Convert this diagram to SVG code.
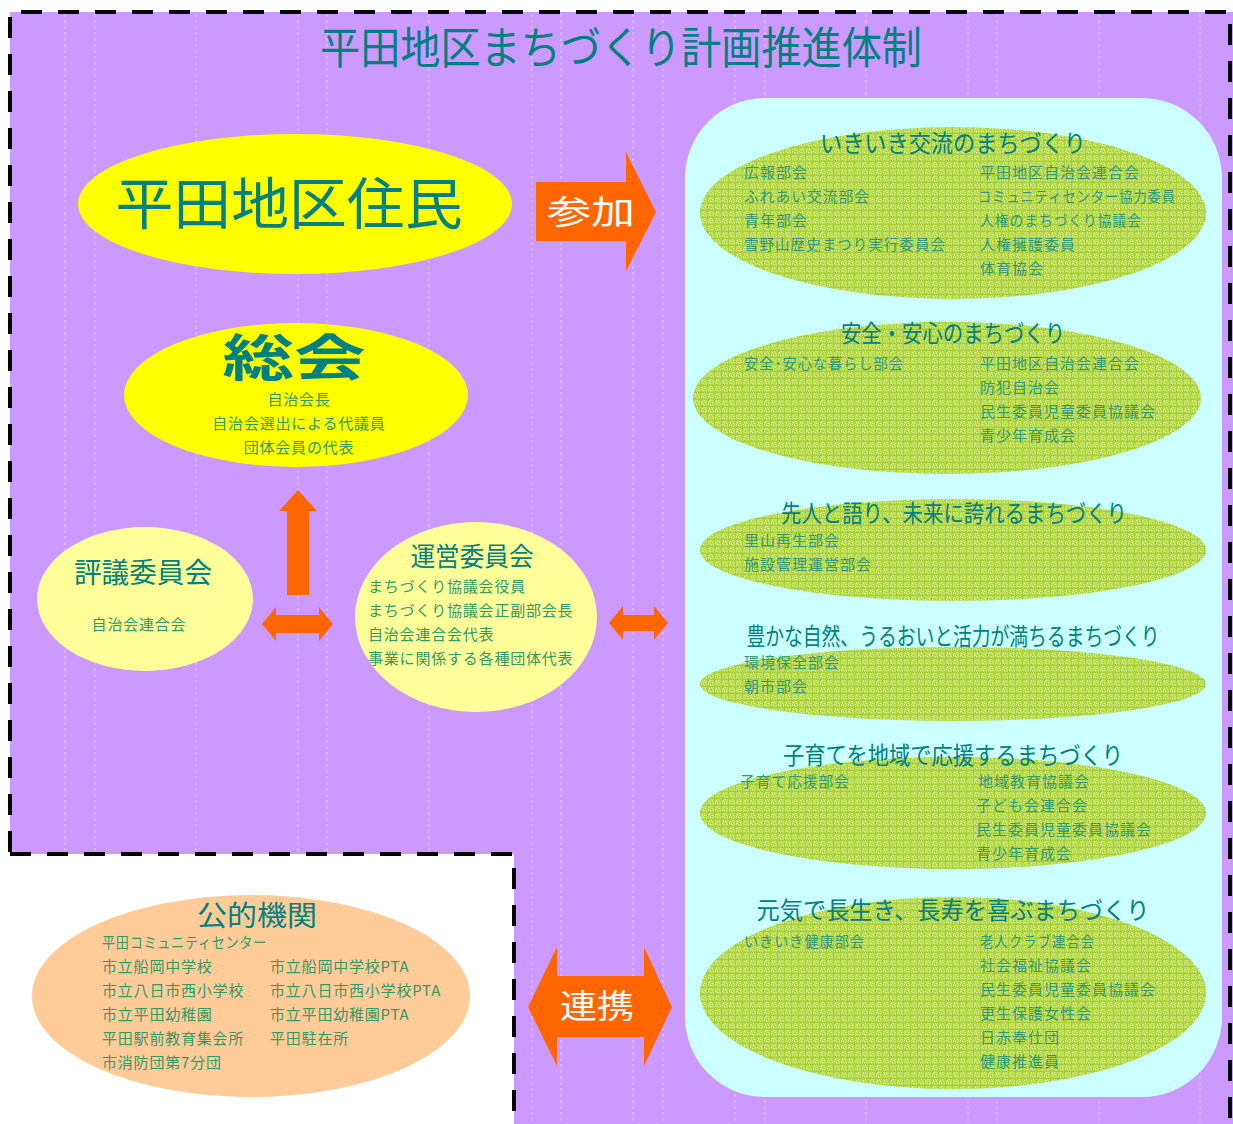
<svg xmlns="http://www.w3.org/2000/svg" width="1233" height="1124" viewBox="0 0 1233 1124">
<style>
.ttl{font-family:"Noto Sans CJK JP",sans-serif;fill:#008080;}
.sub{font-family:"Noto Sans CJK JP",sans-serif;font-size:15px;fill:#339977;letter-spacing:1px;}
.sub2{font-family:"Noto Sans CJK JP",sans-serif;font-size:15px;fill:#339966;letter-spacing:0.8px;}
.wt{font-family:"Noto Sans CJK JP",sans-serif;fill:#ffffff;}
.arrow{fill:#FF6600;}
.grid{stroke:#E2CCFF;stroke-width:1;stroke-dasharray:3 3;}
.green{fill:url(#tex);}
</style>
<defs>
<pattern id="tex" width="7" height="7" patternUnits="userSpaceOnUse">
<rect width="7" height="7" fill="#BADC52"/>
<rect x="0" y="0" width="7" height="1" fill="#AACE36"/>
<rect x="0" y="0" width="1" height="7" fill="#AACE36"/>
<rect x="2" y="2" width="1" height="1" fill="#E6F6B8"/>
<rect x="5" y="3" width="1" height="1" fill="#DCF0A0"/>
<rect x="3" y="5" width="1" height="1" fill="#E8F6BC"/>
<rect x="6" y="5" width="1" height="1" fill="#D6EC92"/>
<rect x="4" y="1" width="1" height="1" fill="#D2EA8A"/>
<rect x="1" y="4" width="1" height="1" fill="#E0F2A8"/>
<rect x="4" y="4" width="1" height="1" fill="#A8CC32"/>
<rect x="2" y="6" width="1" height="1" fill="#A8CC32"/>
</pattern>
</defs>

<g id="background">
<path d="M10,12 H1233 V1124 H514 V854 H10 Z" fill="#CC99FF"/>
<g id="gridlines">
<line class="grid" x1="65" y1="14" x2="65" y2="852"/>
<line class="grid" x1="95" y1="14" x2="95" y2="852"/>
<line class="grid" x1="196" y1="14" x2="196" y2="852"/>
<line class="grid" x1="298" y1="14" x2="298" y2="852"/>
<line class="grid" x1="327" y1="14" x2="327" y2="852"/>
<line class="grid" x1="429" y1="14" x2="429" y2="852"/>
<line class="grid" x1="532" y1="14" x2="532" y2="1124"/>
<line class="grid" x1="561" y1="14" x2="561" y2="1124"/>
<line class="grid" x1="633" y1="14" x2="633" y2="1124"/>
<line class="grid" x1="663" y1="14" x2="663" y2="1124"/>
<line class="grid" x1="735" y1="14" x2="735" y2="1124"/>
<line class="grid" x1="765" y1="14" x2="765" y2="1124"/>
<line class="grid" x1="866" y1="14" x2="866" y2="1124"/>
<line class="grid" x1="968" y1="14" x2="968" y2="1124"/>
<line class="grid" x1="997" y1="14" x2="997" y2="1124"/>
<line class="grid" x1="1099" y1="14" x2="1099" y2="1124"/>
<line class="grid" x1="1200" y1="14" x2="1200" y2="1124"/>
</g>
<path d="M10,852 V12 H1230 V1124 M10,854 H514 V1124" fill="none" stroke="#000" stroke-width="4" stroke-dasharray="21 16"/>
<text class="ttl" x="621" y="64" font-size="44" text-anchor="middle" textLength="602" lengthAdjust="spacingAndGlyphs">平田地区まちづくり計画推進体制</text>
<rect x="685" y="98" width="537" height="999" rx="80" ry="80" fill="#CCFFFF"/>
</g>

<g id="connectors">
<g id="arrow-sanka">
<path class="arrow" d="M536,182 H626 V152 L656,212 L626,271 V241 H536 Z"/>
<text class="wt" x="591" y="224" font-size="33" text-anchor="middle" textLength="88" lengthAdjust="spacingAndGlyphs">参加</text>
</g>
<path id="arrow-up" class="arrow" d="M287,595 V511 H279 L298,490 L317,511 H309 V595 Z"/>
<path id="arrow-lr1" class="arrow" d="M262,624 L276,607 V615 H319 V607 L333,624 L319,641 V633 H276 V641 Z"/>
<path id="arrow-lr2" class="arrow" d="M609,623 L623,606 V615 H654 V606 L668,623 L654,640 V631 H623 V640 Z"/>
<g id="arrow-renkei">
<path class="arrow" d="M528,1007 L557,947 V976 H644 V947 L672,1007 L644,1066 V1037 H557 V1066 Z"/>
<text class="wt" x="597" y="1018" font-size="33" text-anchor="middle" textLength="74" lengthAdjust="spacingAndGlyphs">連携</text>
</g>
</g>

<g id="node-jumin">
<ellipse cx="295" cy="204" rx="217" ry="70" fill="#FFFF00"/>
<text class="ttl" x="289" y="224" font-size="56" text-anchor="middle" textLength="347" lengthAdjust="spacingAndGlyphs">平田地区住民</text>
</g>

<g id="node-sokai">
<ellipse cx="296" cy="395" rx="172" ry="72" fill="#FFFF00"/>
<text class="ttl" x="294" y="376" font-size="50" font-weight="bold" text-anchor="middle" textLength="143" lengthAdjust="spacingAndGlyphs">総会</text>
<text class="sub2" x="299" y="405" text-anchor="middle">自治会長</text>
<text class="sub2" x="299" y="429" text-anchor="middle">自治会選出による代議員</text>
<text class="sub2" x="299" y="453" text-anchor="middle">団体会員の代表</text>
</g>

<g id="node-hyogi">
<ellipse cx="145" cy="599" rx="108" ry="72" fill="#FFFF99"/>
<text class="ttl" x="143" y="583" font-size="28" text-anchor="middle" textLength="138" lengthAdjust="spacingAndGlyphs">評議委員会</text>
<text class="sub2" x="139" y="630" text-anchor="middle">自治会連合会</text>
</g>

<g id="node-unei">
<ellipse cx="476" cy="617" rx="121" ry="95" fill="#FFFF99"/>
<text class="ttl" x="472" y="566" font-size="26" text-anchor="middle" textLength="123" lengthAdjust="spacingAndGlyphs">運営委員会</text>
<text class="sub2" x="368" y="592">まちづくり協議会役員</text>
<text class="sub2" x="368" y="616">まちづくり協議会正副部会長</text>
<text class="sub2" x="368" y="640">自治会連合会代表</text>
<text class="sub2" x="368" y="664">事業に関係する各種団体代表</text>
</g>

<g id="node-koteki">
<ellipse cx="251" cy="996" rx="219" ry="101" fill="#FFCC99"/>
<text class="ttl" x="257" y="926" font-size="28" text-anchor="middle" textLength="120" lengthAdjust="spacingAndGlyphs">公的機関</text>
<text class="sub2" x="102" y="948" textLength="165" lengthAdjust="spacingAndGlyphs">平田コミュニティセンター</text>
<text class="sub2" x="102" y="972">市立船岡中学校</text>
<text class="sub2" x="102" y="996">市立八日市西小学校</text>
<text class="sub2" x="102" y="1020">市立平田幼稚園</text>
<text class="sub2" x="102" y="1044">平田駅前教育集会所</text>
<text class="sub2" x="102" y="1068">市消防団第7分団</text>
<text class="sub2" x="270" y="972">市立船岡中学校PTA</text>
<text class="sub2" x="270" y="996">市立八日市西小学校PTA</text>
<text class="sub2" x="270" y="1020">市立平田幼稚園PTA</text>
<text class="sub2" x="270" y="1044">平田駐在所</text>
</g>

<g id="node-ikiiki">
<ellipse class="green" cx="953" cy="213" rx="253" ry="86"/>
<text class="ttl" x="953" y="152" font-size="24" text-anchor="middle" textLength="266" lengthAdjust="spacingAndGlyphs">いきいき交流のまちづくり</text>
<text class="sub" x="744" y="178">広報部会</text>
<text class="sub" x="744" y="202" textLength="126" lengthAdjust="spacingAndGlyphs">ふれあい交流部会</text>
<text class="sub" x="744" y="226">青年部会</text>
<text class="sub" x="744" y="250" textLength="202" lengthAdjust="spacingAndGlyphs">雪野山歴史まつり実行委員会</text>
<text class="sub" x="980" y="178">平田地区自治会連合会</text>
<text class="sub" x="978" y="202" textLength="198" lengthAdjust="spacingAndGlyphs">コミュニティセンター協力委員</text>
<text class="sub" x="980" y="226" textLength="162" lengthAdjust="spacingAndGlyphs">人権のまちづくり協議会</text>
<text class="sub" x="980" y="250">人権擁護委員</text>
<text class="sub" x="980" y="274">体育協会</text>
</g>

<g id="node-anzen">
<ellipse class="green" cx="947" cy="398" rx="254" ry="76"/>
<text class="ttl" x="953" y="342" font-size="24" text-anchor="middle" textLength="224" lengthAdjust="spacingAndGlyphs">安全・安心のまちづくり</text>
<text class="sub" x="744" y="369" textLength="160" lengthAdjust="spacingAndGlyphs">安全･安心な暮らし部会</text>
<text class="sub" x="980" y="369">平田地区自治会連合会</text>
<text class="sub" x="980" y="393">防犯自治会</text>
<text class="sub" x="980" y="417">民生委員児童委員協議会</text>
<text class="sub" x="980" y="441">青少年育成会</text>
</g>

<g id="node-senjin">
<ellipse class="green" cx="953" cy="550" rx="253" ry="51"/>
<text class="ttl" x="954" y="522" font-size="24" text-anchor="middle" textLength="346" lengthAdjust="spacingAndGlyphs">先人と語り、未来に誇れるまちづくり</text>
<text class="sub" x="744" y="546">里山再生部会</text>
<text class="sub" x="744" y="570">施設管理運営部会</text>
</g>

<g id="node-shizen">
<ellipse class="green" cx="953" cy="684" rx="253" ry="37"/>
<text class="ttl" x="953" y="645" font-size="24" text-anchor="middle" textLength="413" lengthAdjust="spacingAndGlyphs">豊かな自然、うるおいと活力が満ちるまちづくり</text>
<text class="sub" x="744" y="668">環境保全部会</text>
<text class="sub" x="744" y="692">朝市部会</text>
</g>

<g id="node-kosodate">
<ellipse class="green" cx="953" cy="813" rx="253" ry="56"/>
<text class="ttl" x="953" y="764" font-size="24" text-anchor="middle" textLength="340" lengthAdjust="spacingAndGlyphs">子育てを地域で応援するまちづくり</text>
<text class="sub" x="740" y="787" textLength="110" lengthAdjust="spacingAndGlyphs">子育て応援部会</text>
<text class="sub" x="978" y="787">地域教育協議会</text>
<text class="sub" x="976" y="811">子ども会連合会</text>
<text class="sub" x="976" y="835">民生委員児童委員協議会</text>
<text class="sub" x="976" y="859">青少年育成会</text>
</g>

<g id="node-genki">
<ellipse class="green" cx="953" cy="993" rx="253" ry="96"/>
<text class="ttl" x="953" y="919" font-size="24" text-anchor="middle" textLength="393" lengthAdjust="spacingAndGlyphs">元気で長生き、長寿を喜ぶまちづくり</text>
<text class="sub" x="744" y="947" textLength="121" lengthAdjust="spacingAndGlyphs">いきいき健康部会</text>
<text class="sub" x="980" y="947" textLength="115" lengthAdjust="spacingAndGlyphs">老人クラブ連合会</text>
<text class="sub" x="980" y="971">社会福祉協議会</text>
<text class="sub" x="980" y="995">民生委員児童委員協議会</text>
<text class="sub" x="980" y="1019">更生保護女性会</text>
<text class="sub" x="980" y="1043">日赤奉仕団</text>
<text class="sub" x="980" y="1067">健康推進員</text>
</g>
</svg>
